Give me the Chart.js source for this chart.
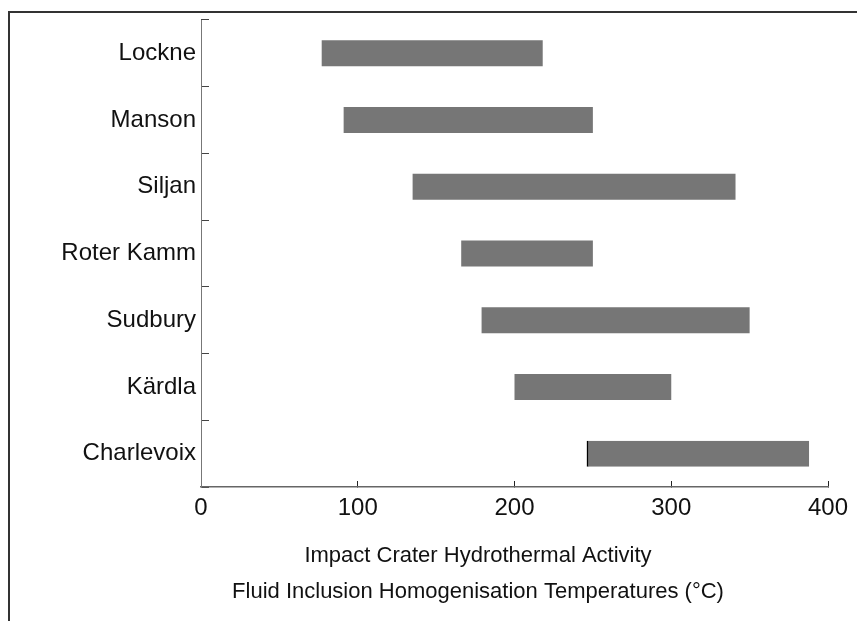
<!DOCTYPE html>
<html>
<head>
<meta charset="utf-8">
<script src="https://cdn.jsdelivr.net/npm/chart.js@4.4.1/dist/chart.umd.min.js"></script>
<style>
    html, body { margin: 0; padding: 0; background: #fff; }
    #wrap { width: 857px; height: 621px; }
</style>
</head>
<body>
<div id="wrap"><canvas id="craterChart" width="857" height="621"></canvas></div>
<script>
const craters = ['Lockne', 'Manson', 'Siljan', 'Roter Kamm', 'Sudbury', 'Kärdla', 'Charlevoix'];
const minTemps = [77, 91, 135, 166, 179, 200, 246];
const maxTemps = [218, 250, 341, 250, 350, 300, 388];
const xTicks = [0, 100, 200, 300, 400];
const titleLines = ['Impact Crater Hydrothermal Activity', 'Fluid Inclusion Homogenisation Temperatures (°C)'];

const FONT = '"Liberation Sans", Arial, sans-serif';

// outer frame (only top and left edge are visible) + axis title
const framePlugin = {
    id: 'frame',
    beforeDraw(chart) {
        const ctx = chart.ctx;
        ctx.save();
        ctx.strokeStyle = '#333';
        ctx.lineWidth = 2;
        ctx.beginPath();
        ctx.moveTo(9, 621);
        ctx.lineTo(9, 12);
        ctx.lineTo(857, 12);
        ctx.stroke();
        ctx.restore();
    },
    afterDraw(chart) {
        const ctx = chart.ctx;
        ctx.save();
        ctx.fillStyle = '#111';
        ctx.font = '22px ' + FONT;
        ctx.textAlign = 'center';
        ctx.textBaseline = 'middle';
        ctx.fillText(titleLines[0], 478, 556);
        ctx.fillText(titleLines[1], 478, 592);
        ctx.restore();
    }
};

new Chart(document.getElementById('craterChart'), {
    type: 'bar',
    data: {
        labels: craters,
        datasets: [{
            data: craters.map((c, i) => [minTemps[i], maxTemps[i]]),
            backgroundColor: '#767676',
            borderColor: '#000',
            borderSkipped: false,
            borderWidth: (ctx) => ctx.dataIndex === 6 ? { left: 2, right: 0, top: 0, bottom: 0 } : 0,
            barPercentage: 0.39,
            categoryPercentage: 1
        }]
    },
    options: {
        indexAxis: 'y',
        responsive: false,
        animation: false,
        layout: { padding: { top: 20, right: 29, left: 0, bottom: 0 } },
        plugins: {
            legend: { display: false },
            tooltip: { enabled: false }
        },
        scales: {
            x: {
                min: 0,
                max: 400,
                afterBuildTicks: (scale) => { scale.ticks = xTicks.map(v => ({ value: v })); },
                afterFit: (scale) => {
                    scale.height = 621 - 487;
                    scale.paddingLeft = 0;
                    scale.paddingRight = 0;
                },
                grid: { drawOnChartArea: false, tickLength: -6, color: '#222', lineWidth: 1 },
                border: { color: '#666', width: 1.5 },
                ticks: { color: '#111', padding: 13, font: { family: FONT, size: 24 } }
            },
            y: {
                afterFit: (scale) => {
                    scale.width = 201;
                    scale.paddingTop = 0;
                    scale.paddingBottom = 0;
                },
                grid: { drawOnChartArea: false, tickLength: -8, color: '#444', lineWidth: 1, offset: true },
                border: { color: '#777', width: 1 },
                ticks: { color: '#111', padding: 13, font: { family: FONT, size: 24 } }
            }
        }
    },
    plugins: [framePlugin]
});
</script>
</body>
</html>
